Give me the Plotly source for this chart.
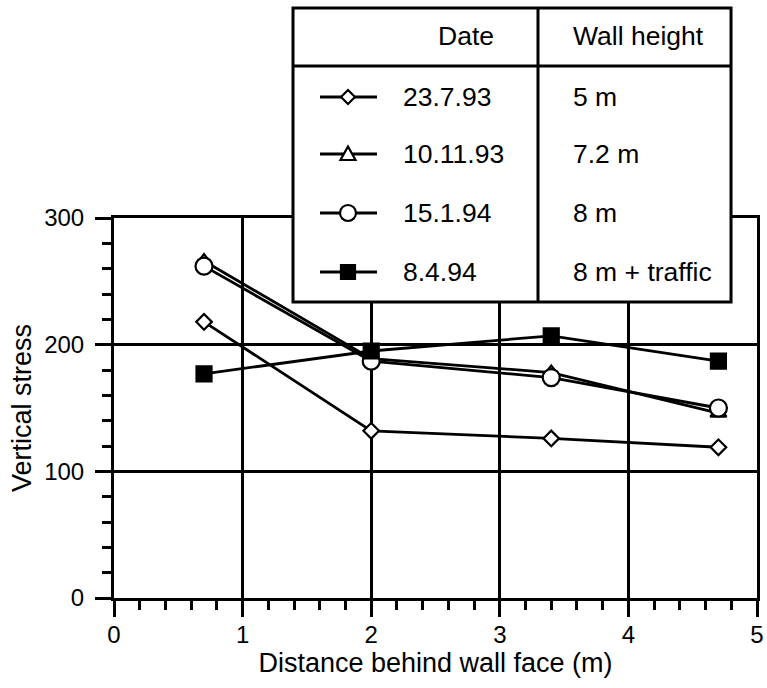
import plotly.graph_objects as go

# ---- data ----
distance = [0.7, 2.0, 3.4, 4.7]
stress_230793 = [218, 132, 126, 119]
stress_101193 = [266, 189, 178, 146]
stress_150194 = [262, 187, 174, 150]
stress_080494 = [177, 195, 207, 187]

dates = ["23.7.93", "10.11.93", "15.1.94", "8.4.94"]
wall_heights = ["5 m", "7.2 m", "8 m", "8 m + traffic"]
x_ticks = [0, 1, 2, 3, 4, 5]
y_ticks = [0, 100, 200, 300]

FONT = "Liberation Sans, Arial, Helvetica, sans-serif"
TXT = 26.5

series = [
    (stress_230793, "diamond", 12, "white"),
    (stress_101193, "triangle-up", 14, "white"),
    (stress_150194, "circle", 17, "white"),
    (stress_080494, "square", 15, "black"),
]

fig = go.Figure()
for (vals, sym, size, fill), name in zip(series, dates):
    fig.add_trace(go.Scatter(
        x=distance, y=vals, mode="lines+markers", name=name,
        line=dict(color="black", width=2.8),
        marker=dict(symbol=sym, size=size, color=fill,
                    line=dict(color="black", width=2.2)),
        showlegend=False, cliponaxis=False, hoverinfo="skip",
    ))

# ---- custom legend table ----
bx0, bx1, by0, by1 = 0.2784, 0.9596, 0.7789, 1.5526
col_div = 0.6594
head_div = 1.40
shapes = [
    dict(type="rect", xref="paper", yref="paper", x0=bx0, x1=bx1, y0=by0, y1=by1,
         fillcolor="white", line=dict(color="black", width=3), layer="above"),
    dict(type="line", xref="paper", yref="paper", x0=col_div, x1=col_div, y0=by0, y1=by1,
         line=dict(color="black", width=3), layer="above"),
    dict(type="line", xref="paper", yref="paper", x0=bx0, x1=bx1, y0=head_div, y1=head_div,
         line=dict(color="black", width=3), layer="above"),
]
row_y = [1.3184, 1.1684, 1.0132, 0.8579]
line_x0, line_x1, mark_x = 0.3204, 0.409, 0.3639
annotations = []
for i, ry in enumerate(row_y):
    shapes.append(dict(type="line", xref="paper", yref="paper", x0=line_x0, x1=line_x1,
                       y0=ry, y1=ry, line=dict(color="black", width=2.8), layer="above"))
    sym = series[i][1]
    common = dict(xref="paper", yref="paper", xsizemode="pixel", ysizemode="pixel",
                  xanchor=mark_x, yanchor=ry, layer="above",
                  line=dict(color="black", width=2.2))
    if sym == "diamond":
        shapes.append(dict(type="path", path="M -7 0 L 0 7 L 7 0 L 0 -7 Z",
                           fillcolor="white", **common))
    elif sym == "triangle-up":
        shapes.append(dict(type="path", path="M -7.5 -6 L 7.5 -6 L 0 7.5 Z",
                           fillcolor="white", **common))
    elif sym == "circle":
        shapes.append(dict(type="circle", x0=-8, x1=8, y0=-8, y1=8,
                           fillcolor="white", **common))
    else:
        shapes.append(dict(type="rect", x0=-7, x1=7, y0=-7, y1=7,
                           fillcolor="black", **common))
    annotations.append(dict(xref="paper", yref="paper", x=0.4463, y=ry, xanchor="left",
                            yanchor="middle", text=dates[i], showarrow=False,
                            font=dict(size=TXT, color="black", family=FONT)))
    annotations.append(dict(xref="paper", yref="paper", x=0.7107, y=ry, xanchor="left",
                            yanchor="middle", text=wall_heights[i], showarrow=False,
                            font=dict(size=TXT, color="black", family=FONT)))
annotations.append(dict(xref="paper", yref="paper", x=0.594, y=1.479, xanchor="right",
                        yanchor="middle", text="Date", showarrow=False,
                        font=dict(size=TXT, color="black", family=FONT)))
annotations.append(dict(xref="paper", yref="paper", x=0.7107, y=1.479, xanchor="left",
                        yanchor="middle", text="Wall height", showarrow=False,
                        font=dict(size=TXT, color="black", family=FONT)))

axis_common = dict(
    showline=True, linecolor="black", linewidth=3, mirror=True,
    showgrid=True, gridcolor="black", gridwidth=3, zeroline=False,
    ticks="outside", ticklen=16, tickwidth=3, tickcolor="black",
    tickfont=dict(size=24, color="black", family=FONT),
)

fig.update_xaxes(
    range=[0, 5], tickvals=x_ticks, ticktext=[str(v) for v in x_ticks],
    ticklabelstandoff=-3,
    title=dict(text="Distance behind wall face (m)",
               font=dict(size=27, color="black", family=FONT), standoff=4),
    minor=dict(dtick=0.2, tick0=0, ticks="outside", ticklen=9, tickwidth=3,
               tickcolor="black", showgrid=False),
    **axis_common,
)
fig.update_yaxes(
    range=[0, 300], tickvals=y_ticks, ticktext=[str(v) for v in y_ticks],
    ticklabelstandoff=6,
    title=dict(text="Vertical stress",
               font=dict(size=27, color="black", family=FONT), standoff=5),
    minor=dict(dtick=20, tick0=0, ticks="outside", ticklen=9, tickwidth=3,
               tickcolor="black", showgrid=False),
    **axis_common,
)

fig.update_layout(
    width=767, height=688,
    margin=dict(l=114, r=10, t=218, b=90, autoexpand=False),
    paper_bgcolor="white", plot_bgcolor="white",
    shapes=shapes, annotations=annotations,
    showlegend=False, hovermode=False,
    font=dict(family=FONT, color="black"),
)

fig.write_html("out.html", config={"displayModeBar": False, "staticPlot": True},
               post_script="document.body.style.margin='0';document.body.style.overflow='hidden';")
